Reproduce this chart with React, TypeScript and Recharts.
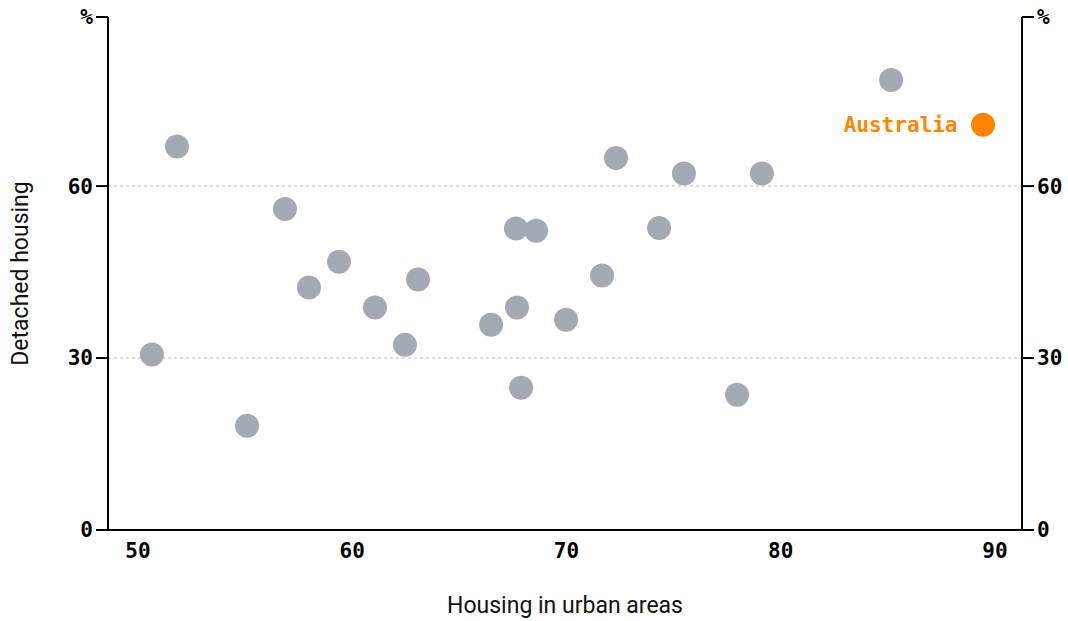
import React from 'react';
import {
  ScatterChart, Scatter, XAxis, YAxis, ReferenceLine, Label, LabelList,
} from 'recharts';

// share of housing in urban areas (%) and share of detached housing (%)
const countries = [
  'C1', 'C2', 'C3', 'C4', 'C5', 'C6', 'C7', 'C8', 'C9', 'C10', 'C11',
  'C12', 'C13', 'C14', 'C15', 'C16', 'C17', 'C18', 'C19', 'C20', 'C21', 'C22',
];
const urbanShare = [
  50.65, 51.82, 55.09, 56.86, 57.98, 59.38, 61.06, 62.46, 63.07, 66.48, 67.64,
  67.69, 67.88, 68.58, 69.98, 71.66, 72.31, 74.32, 75.48, 77.96, 79.12, 85.15,
];
const detachedShare = [
  30.6, 66.9, 18.2, 56.0, 42.3, 46.8, 38.8, 32.3, 43.7, 35.8, 52.6,
  38.8, 24.8, 52.2, 36.7, 44.4, 64.9, 52.7, 62.2, 23.6, 62.2, 78.5,
];
const highlight = { name: 'Australia', urban: 89.44, detached: 70.7 };

const xTicks = [50, 60, 70, 80, 90];
const xDomain = [48.6, 91.26];
const yTicks = [0, 30, 60, 89.5];
const yDomain = [0, 89.5];
const gridValues = [30, 60];

const others = countries.map((name, i) => ({
  name, urban: urbanShare[i], detached: detachedShare[i],
}));
const australia = [highlight];

const GREY = '#a3aab4';
const ORANGE = '#ff8500';
const mono = '"DejaVu Sans Mono", monospace';
const sans = 'Roboto, "Noto Sans", sans-serif';

const tickStyle = { fontFamily: mono, fontSize: 21, fontWeight: 700, fill: '#000' };
const yFmt = (v: number) => (v === yTicks[yTicks.length - 1] ? '%' : String(v));

const dot = (color: string) => (p: any) => (
  <circle cx={p.cx} cy={p.cy} r={12} fill={color} />
);
const noDot = () => <g />;

export default function App() {
  return (
    <div style={{ position: 'absolute', left: 0, top: 0 }}>
      <ScatterChart
        width={1068}
        height={621}
        margin={{ top: 17, right: 0, bottom: 0, left: 0 }}
      >
        {gridValues.map((v) => (
          <ReferenceLine key={v} yAxisId="left" y={v} stroke="#bbb" strokeDasharray="3 3" />
        ))}
        <XAxis
          type="number"
          dataKey="urban"
          domain={xDomain}
          ticks={xTicks}
          allowDataOverflow
          height={91}
          tickLine={false}
          tickMargin={7}
          axisLine={{ stroke: '#000', strokeWidth: 2 }}
          tick={tickStyle}
        >
          <Label
            value="Housing in urban areas"
            position="insideBottom"
            offset={8}
            style={{ fontFamily: sans, fontSize: 23, fill: '#111' }}
          />
        </XAxis>
        <YAxis
          yAxisId="left"
          type="number"
          dataKey="detached"
          domain={yDomain}
          ticks={yTicks}
          tickFormatter={yFmt}
          width={108}
          tickSize={12}
          tickMargin={3}
          axisLine={{ stroke: '#000', strokeWidth: 2 }}
          tickLine={{ stroke: '#000', strokeWidth: 2 }}
          tick={tickStyle}
        >
          <Label
            content={(p: any) => {
              const vb = p.viewBox;
              const cy = vb.y + vb.height / 2;
              return (
                <text
                  x={20}
                  y={cy}
                  transform={`rotate(-90 20 ${cy})`}
                  textAnchor="middle"
                  dominantBaseline="central"
                  style={{ fontFamily: sans, fontSize: 23, fill: '#111' }}
                >
                  Detached housing
                </text>
              );
            }}
          />
        </YAxis>
        <YAxis
          yAxisId="right"
          orientation="right"
          type="number"
          dataKey="detached"
          domain={yDomain}
          ticks={yTicks}
          tickFormatter={yFmt}
          width={46}
          tickSize={12}
          tickMargin={3}
          axisLine={{ stroke: '#000', strokeWidth: 2 }}
          tickLine={{ stroke: '#000', strokeWidth: 2 }}
          tick={tickStyle}
        />
        <Scatter
          yAxisId="right"
          data={others}
          shape={noDot}
          isAnimationActive={false}
        />
        <Scatter
          yAxisId="left"
          data={others}
          shape={dot(GREY)}
          isAnimationActive={false}
        />
        <Scatter
          yAxisId="left"
          data={australia}
          shape={dot(ORANGE)}
          isAnimationActive={false}
        >
          <LabelList
            dataKey="name"
            position="left"
            offset={21}
            style={{ fontFamily: mono, fontSize: 21, fontWeight: 700, fill: ORANGE }}
          />
        </Scatter>
      </ScatterChart>
    </div>
  );
}
